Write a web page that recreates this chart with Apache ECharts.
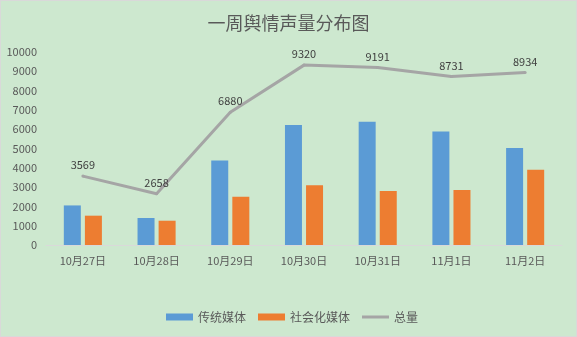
<!DOCTYPE html>
<html>
<head>
<meta charset="utf-8">
<script src="https://cdn.jsdelivr.net/npm/echarts@6/dist/echarts.min.js"></script>
<style>
  html, body { margin: 0; padding: 0; background: #cde8cf; }
  #chart { width: 577px; height: 337px; box-sizing: border-box; border: 1px solid #d9d9d9; }
</style>
</head>
<body>
<div id="chart"></div>
<script>
// Daily public-opinion volume over one week
const days = ['10月27日', '10月28日', '10月29日', '10月30日', '10月31日', '11月1日', '11月2日'];
const traditionalMedia = [2050, 1400, 4380, 6220, 6390, 5880, 5030];
const socialMedia = [1519, 1258, 2500, 3100, 2801, 2851, 3904];
const totalVolume = [3569, 2658, 6880, 9320, 9191, 8731, 8934];
const yTicks = { min: 0, max: 10000, interval: 1000 };

const font = '"Microsoft YaHei", "Noto Sans CJK SC", sans-serif';
const chart = echarts.init(document.getElementById('chart'));
chart.setOption({
  backgroundColor: '#cde8cf',
  textStyle: { fontFamily: font },
  title: {
    text: '一周舆情声量分布图',
    left: 'center',
    top: 8,
    textStyle: { fontSize: 18, fontWeight: 'normal', color: '#595959', fontFamily: font }
  },
  legend: {
    bottom: 8,
    left: 160,
    itemWidth: 27,
    itemHeight: 7,
    itemGap: 12,
    textStyle: { fontSize: 12, color: '#595959' },
    data: [
      { name: '传统媒体', icon: 'rect' },
      { name: '社会化媒体', icon: 'rect' },
      { name: '总量', icon: 'path://M0,0L27,0L27,3L0,3Z' }
    ]
  },
  grid: { left: 45, right: 14, top: 51, bottom: 91, containLabel: false },
  xAxis: {
    type: 'category',
    data: days,
    axisLine: { lineStyle: { color: '#d9d9d9', width: 1 } },
    axisTick: { show: false },
    axisLabel: { color: '#595959', fontSize: 11, margin: 10 }
  },
  yAxis: {
    type: 'value',
    min: yTicks.min,
    max: yTicks.max,
    interval: yTicks.interval,
    axisLine: { show: false },
    axisTick: { show: false },
    splitLine: { show: false },
    axisLabel: { color: '#595959', fontSize: 11, margin: 9, formatter: v => String(v) }
  },
  series: [
    {
      name: '传统媒体', type: 'bar', data: traditionalMedia,
      barWidth: 17, barGap: '24%',
      itemStyle: { color: '#5b9bd5' }
    },
    {
      name: '社会化媒体', type: 'bar', data: socialMedia,
      barWidth: 17,
      itemStyle: { color: '#ed7d31' }
    },
    {
      name: '总量', type: 'line', data: totalVolume,
      symbol: 'circle',
      symbolSize: 3,
      showSymbol: true,
      lineStyle: { color: '#a5a5a5', width: 3 },
      itemStyle: { color: '#a5a5a5' },
      label: { show: true, position: 'top', distance: 4, color: '#404040', fontSize: 11, formatter: p => String(p.value) }
    }
  ]
});
</script>
</body>
</html>
